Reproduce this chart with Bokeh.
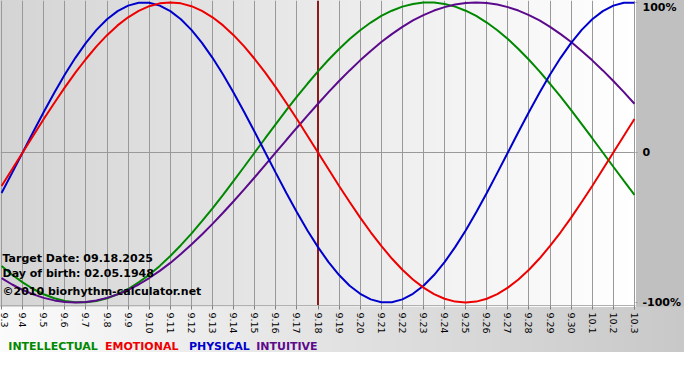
import math
from bokeh.plotting import figure
from bokeh.layouts import column
from bokeh.models import Range1d, FixedTicker, Label, Span
from bokeh.core.properties import value
from bokeh.embed import file_html
from bokeh.resources import INLINE

# ---- data ----
day_labels = ["9.3", "9.4", "9.5", "9.6", "9.7", "9.8", "9.9", "9.10", "9.11", "9.12",
              "9.13", "9.14", "9.15", "9.16", "9.17", "9.18", "9.19", "9.20", "9.21", "9.22",
              "9.23", "9.24", "9.25", "9.26", "9.27", "9.28", "9.29", "9.30", "10.1", "10.2", "10.3"]

# curve readings every half day, from 9.3 to 10.3
intellectual = [-0.756, -0.815, -0.866, -0.910, -0.945, -0.972, -0.990, -0.999, -0.999, -0.990,
                -0.972, -0.945, -0.910, -0.866, -0.815, -0.756, -0.690, -0.618, -0.541, -0.458,
                -0.372, -0.282, -0.189, -0.095, 0.000, 0.095, 0.189, 0.282, 0.372, 0.458,
                0.541, 0.618, 0.690, 0.756, 0.815, 0.866, 0.910, 0.945, 0.972, 0.990,
                0.999, 0.999, 0.990, 0.972, 0.945, 0.910, 0.866, 0.815, 0.756, 0.690,
                0.618, 0.541, 0.458, 0.372, 0.282, 0.189, 0.095, 0.000, -0.095, -0.189, -0.282]
emotional = [-0.223, -0.112, 0.000, 0.112, 0.223, 0.330, 0.434, 0.532, 0.623, 0.707,
             0.782, 0.847, 0.901, 0.944, 0.975, 0.994, 1.000, 0.994, 0.975, 0.944,
             0.901, 0.847, 0.782, 0.707, 0.623, 0.532, 0.434, 0.330, 0.223, 0.112,
             0.000, -0.112, -0.223, -0.330, -0.434, -0.532, -0.623, -0.707, -0.782, -0.847,
             -0.901, -0.944, -0.975, -0.994, -1.000, -0.994, -0.975, -0.944, -0.901, -0.847,
             -0.782, -0.707, -0.623, -0.532, -0.434, -0.330, -0.223, -0.112, 0.000, 0.112, 0.223]
physical = [-0.270, -0.136, 0.000, 0.136, 0.270, 0.398, 0.520, 0.631, 0.731, 0.817,
            0.888, 0.942, 0.979, 0.998, 0.998, 0.979, 0.942, 0.888, 0.817, 0.731,
            0.631, 0.520, 0.398, 0.270, 0.136, 0.000, -0.136, -0.270, -0.398, -0.520,
            -0.631, -0.731, -0.817, -0.888, -0.942, -0.979, -0.998, -0.998, -0.979, -0.942,
            -0.888, -0.817, -0.731, -0.631, -0.520, -0.398, -0.270, -0.136, 0.000, 0.136,
            0.270, 0.398, 0.520, 0.631, 0.731, 0.817, 0.888, 0.942, 0.979, 0.998, 0.998]
intuitive = [-0.837, -0.880, -0.916, -0.946, -0.969, -0.986, -0.997, -1.000, -0.997, -0.986,
             -0.969, -0.946, -0.916, -0.880, -0.837, -0.789, -0.736, -0.677, -0.614, -0.547,
             -0.476, -0.402, -0.325, -0.246, -0.165, -0.083, 0.000, 0.083, 0.165, 0.246,
             0.325, 0.402, 0.476, 0.547, 0.614, 0.677, 0.736, 0.789, 0.837, 0.880,
             0.916, 0.946, 0.969, 0.986, 0.997, 1.000, 0.997, 0.986, 0.969, 0.946,
             0.916, 0.880, 0.837, 0.789, 0.736, 0.677, 0.614, 0.547, 0.476, 0.402, 0.325]

series_names = ["INTELLECTUAL", "EMOTIONAL", "PHYSICAL", "INTUITIVE"]
y_ticks = [1, 0, -1]
y_tick_labels = ["100%", "0", "-100%"]
target_day = "9.18"
info_lines = ["Target Date: 09.18.2025", "Day of birth: 02.05.1948",
              "\u00a92010 biorhythm-calculator.net"]

# ---- styling / layout ----
colors = ["#008800", "#ee0000", "#0000cc", "#5c0a8c"]
W = 684
FRAME_W, FRAME_H = 636, 307
BOTTOM = 29
LEG_H = 28

day_x = list(range(len(day_labels)))
sample_x = [i * 0.5 for i in range(len(intellectual))]

p = figure(width=W, height=FRAME_H + BOTTOM, output_backend="svg", toolbar_location=None,
           x_range=Range1d(-0.05, 30.05), y_range=Range1d(-1.02, 1.013),
           min_border_left=0, min_border_right=W - FRAME_W,
           min_border_top=0, min_border_bottom=BOTTOM,
           y_axis_location="right")
p.background_fill_alpha = 0
p.border_fill_alpha = 0
p.outline_line_color = None
p.styles = {
    "background": (
        f"linear-gradient(to right, #d4d4d4, #ffffff) 0px 0px / {FRAME_W}px {FRAME_H}px no-repeat, "
        f"linear-gradient(#c0c0c0, #c0c0c0) {FRAME_W}px 0px / {W - FRAME_W}px {FRAME_H}px no-repeat, "
        f"linear-gradient(to right, #fbfbfb, #c8c8c8) 0px {FRAME_H}px / {W}px {BOTTOM}px no-repeat, "
        "#ffffff"
    )
}

# grid
p.xgrid.ticker = FixedTicker(ticks=day_x)
p.xgrid.grid_line_color = "#999999"
p.ygrid.ticker = FixedTicker(ticks=[0])
p.ygrid.grid_line_color = "#999999"

# x axis
xa = p.xaxis[0]
xa.ticker = FixedTicker(ticks=day_x)
xa.major_label_overrides = {i: lab for i, lab in enumerate(day_labels)}
xa.major_label_orientation = -math.pi / 2
xa.major_label_text_font = "DejaVu Sans"
xa.major_label_text_font_size = "9.5px"
xa.major_label_text_color = "#000000"
xa.major_label_standoff = 3
xa.major_tick_out = 4
xa.major_tick_in = 0
xa.major_tick_line_color = "#808080"
xa.minor_tick_line_color = None
xa.axis_line_color = "#b0b0b0"

# y axis (right)
ya = p.yaxis[0]
ya.ticker = FixedTicker(ticks=y_ticks)
ya.major_label_overrides = {t: s for t, s in zip(y_ticks, y_tick_labels)}
ya.major_label_text_font = "DejaVu Sans"
ya.major_label_text_font_style = "bold"
ya.major_label_text_font_size = "11px"
ya.major_label_text_color = "#000000"
ya.major_label_standoff = 5
ya.major_tick_out = 2
ya.major_tick_in = 0
ya.major_tick_line_color = "#999999"
ya.minor_tick_line_color = None
ya.axis_line_color = None

# target date marker
p.add_layout(Span(location=day_labels.index(target_day), dimension="height",
                  line_color="#8b1a1a", line_width=2, level="underlay"))

# curves
for vals, col in zip([intellectual, intuitive, physical, emotional],
                     [colors[0], colors[3], colors[2], colors[1]]):
    p.line(sample_x, vals, line_color=col, line_width=2)

# info text
for txt, yy in zip(info_lines, [-0.706, -0.808, -0.929]):
    p.add_layout(Label(x=-0.05, y=yy, x_offset=2, text=txt, text_font="DejaVu Sans",
                       text_font_style="bold", text_font_size="11px",
                       text_baseline="middle", text_color="#000000"))

# legend strip below the chart
leg = figure(width=W, height=LEG_H, output_backend="svg", toolbar_location=None,
             x_range=p.x_range, y_range=Range1d(0, 1),
             min_border_left=0, min_border_right=W - FRAME_W,
             min_border_top=0, min_border_bottom=0,
             x_axis_location=None, y_axis_location=None)
leg.grid.visible = False
leg.outline_line_color = None
leg.background_fill_alpha = 0
leg.border_fill_alpha = 0
leg.styles = {
    "background": (
        f"linear-gradient(to right, #fbfbfb, #c8c8c8) 0px 0px / {W}px 16px no-repeat, #ffffff"
    )
}
leg.text(x=[0.32, 4.90, 8.88, 12.07], y=[0.64] * 4, text=series_names,
         text_color=colors, text_font=value("DejaVu Sans"), text_font_style="bold",
         text_font_size="11px", text_baseline="middle", text_align="left")

layout = column(p, leg, spacing=0)
open("out.html", "w").write(file_html(layout, INLINE))
